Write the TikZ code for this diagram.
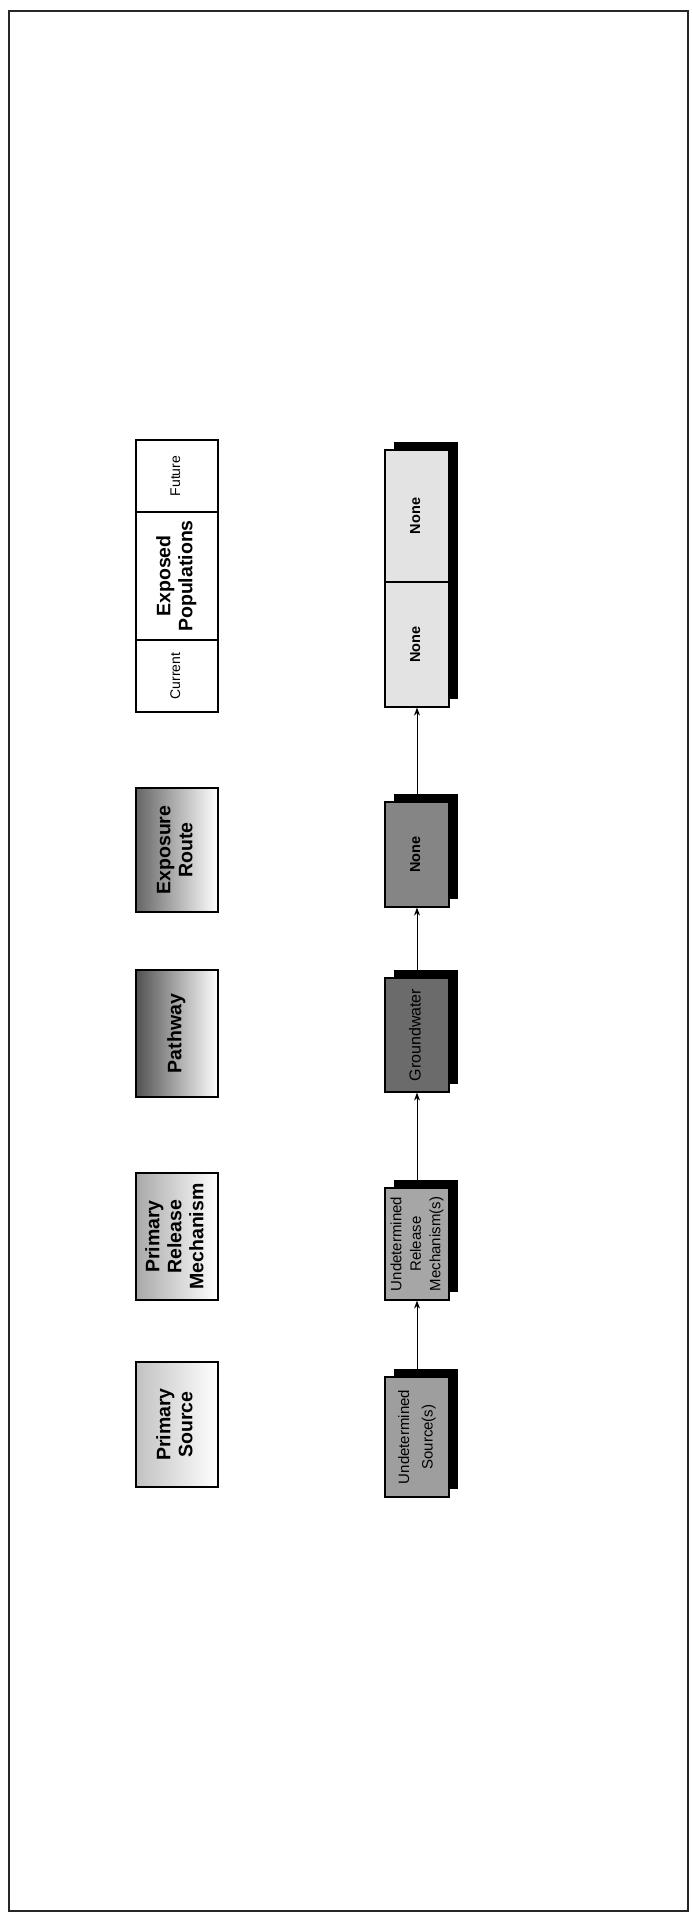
\documentclass[tikz,border=0pt]{standalone}
\usepackage{fontspec}
\setmainfont{Liberation Sans}
\usetikzlibrary{arrows.meta}
\tikzset{
  hdr/.style={draw=black, line width=1.2pt, minimum width=82pt, inner sep=0pt, align=center},
  low/.style={draw=black, line width=1.2pt, minimum width=64pt, inner sep=0pt, align=center},
  shad/.style={fill=black},
  conn/.style={line width=0.9pt, -{Stealth[length=8pt,width=6pt]}},
  frame/.style={line width=1.5pt, draw=black!85}
}
\newcommand{\rt}[2]{\rotatebox{90}{#1\begin{tabular}{@{}c@{}}#2\end{tabular}}}
\newcommand{\hdrfont}{\fontsize{19.5}{22}\selectfont\bfseries}
\newcommand{\smfont}{\fontsize{14}{16}\selectfont}
\newcommand{\lowfont}{\fontsize{15}{19.5}\selectfont}
\begin{document}
\begin{tikzpicture}[x=1pt,y=-1pt]
\useasboundingbox (0,0) rectangle (691,1916);
\draw[frame] (9,11) rectangle (688,1911);
% header row
\node[hdr, minimum height=125pt, left color=black!24, right color=white] (srcH) at (177,1424.5) {\rt{\hdrfont}{Primary\\Source}};
\node[hdr, minimum height=127pt, left color=black!34, right color=white] (relH) at (177,1236.5) {\rt{\hdrfont}{Primary\\Release\\Mechanism}};
\node[hdr, minimum height=127pt, left color=black!68, middle color=black!45, right color=white] (pathH) at (177,1033.5) {\rt{\hdrfont}{Pathway}};
\node[hdr, minimum height=124pt, left color=black!60, middle color=black!30, right color=white] (routeH) at (177,850) {\rt{\hdrfont}{Exposure\\Route}};
\node[hdr, minimum height=72pt, fill=white] (futH) at (177,476) {\rt{\smfont}{Future}};
\node[hdr, minimum height=128pt, fill=white] (expH) at (177,576) {\rt{\hdrfont}{Exposed\\Populations}};
\node[hdr, minimum height=72pt, fill=white] (curH) at (177,676) {\rt{\smfont}{Current}};
% shadows
\fill[shad] (394,1369) rectangle (458,1489);
\fill[shad] (394,1180) rectangle (458,1292);
\fill[shad] (394,970) rectangle (458,1084);
\fill[shad] (394,794) rectangle (458,899);
\fill[shad] (394,442) rectangle (458,699);
% lower row
\node[low, minimum height=120pt, fill=black!38] (src) at (417,1437) {\rt{\lowfont}{Undetermined\\[4pt]Source(s)}};
\node[low, minimum height=112pt, fill=black!35] (rel) at (417,1244) {\rt{\lowfont}{Undetermined\\Release\\Mechanism(s)}};
\node[low, minimum height=114pt, fill=black!58] (gw) at (417,1035) {\rt{\fontsize{16}{18}\selectfont}{Groundwater}};
\node[low, minimum height=105pt, fill=black!48] (none1) at (417,854.5) {\rt{\fontsize{14.5}{16}\selectfont\bfseries}{None}};
\node[low, minimum height=125pt, fill=black!11] (popC) at (417,644.5) {\rt{\fontsize{14.5}{16}\selectfont\bfseries}{None}};
\node[low, minimum height=132pt, fill=black!11] (popF) at (417,516) {\rt{\fontsize{14.5}{16}\selectfont\bfseries}{None}};
% connectors
\draw[conn] (src.north) -- (rel.south);
\draw[conn] (rel.north) -- (gw.south);
\draw[conn] (gw.north) -- (none1.south);
\draw[conn] (none1.north) -- (popC.south);
\end{tikzpicture}
\end{document}
